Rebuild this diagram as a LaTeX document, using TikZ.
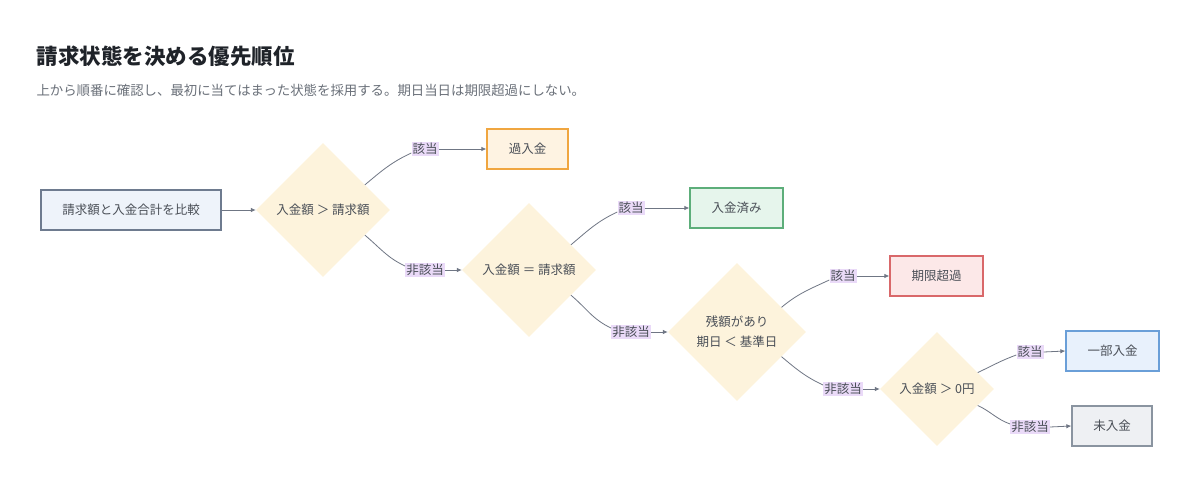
\documentclass[tikz,border=0pt]{standalone}
\usepackage{fontspec}
\setmainfont{Noto Sans CJK JP}
\usetikzlibrary{shapes.geometric,arrows.meta}
\definecolor{ttl}{HTML}{1F2329}
\definecolor{sub}{HTML}{6A7079}
\definecolor{txt}{HTML}{4A4F57}
\definecolor{lbg}{HTML}{EADAF8}
\definecolor{lin}{HTML}{6F7684}
\definecolor{dfill}{HTML}{FDF3DC}
\definecolor{b1f}{HTML}{EEF3FA}\definecolor{b1d}{HTML}{6E7B8F}
\definecolor{orf}{HTML}{FEF3E2}\definecolor{ord}{HTML}{F0A640}
\definecolor{grf}{HTML}{E6F5EC}\definecolor{grd}{HTML}{5DAE7A}
\definecolor{rdf}{HTML}{FCE8E8}\definecolor{rdd}{HTML}{D9686A}
\definecolor{blf}{HTML}{E8F1FC}\definecolor{bld}{HTML}{6A9FD8}
\definecolor{gyf}{HTML}{EEF0F3}\definecolor{gyd}{HTML}{8A94A0}
\tikzset{
  nfont/.style={font=\fontsize{12.5}{20}\selectfont},
  stbox/.style={draw, line width=1.3pt, minimum height=40pt, inner sep=0pt, nfont, text=txt},
  dia/.style={diamond, aspect=1, fill=dfill, inner sep=0pt, nfont, text=txt, align=center},
  lbl/.style={fill=lbg, inner xsep=1pt, inner ysep=1.5pt, nfont, text=txt},
  conn/.style={draw=lin, line width=0.8pt},
  arr/.style={conn, -{Latex[length=5pt,width=4.5pt]}},
  upc/.style={conn, out=40, in=205},
  dnc/.style={conn, out=-40, in=155}
}
\begin{document}
\begin{tikzpicture}[x=1pt,y=-1pt]
\useasboundingbox[fill=white] (0,0) rectangle (1200,498);
\node[anchor=base west, text=ttl, font=\fontsize{21.5}{26}\selectfont\bfseries] (title) at (33,64) {請求状態を決める優先順位};
\node[anchor=base west, text=sub, font=\fontsize{13.4}{16}\selectfont] (subt) at (33,95) {上から順番に確認し、最初に当てはまった状態を採用する。期日当日は期限超過にしない。};

\node[stbox, fill=b1f, draw=b1d, minimum width=180pt] (start) at (131,210) {請求額と入金合計を比較};
\node[dia, minimum width=134pt, minimum height=134pt] (d1) at (323,210) {入金額 ＞ 請求額};
\node[dia, minimum width=134pt, minimum height=134pt] (d2) at (529,270) {入金額 ＝ 請求額};
\node[dia, minimum width=138pt, minimum height=138pt] (d3) at (737,332) {残額があり\\期日 ＜ 基準日};
\node[dia, minimum width=114pt, minimum height=114pt] (d4) at (937,389) {入金額 ＞ 0円};

\node[stbox, fill=orf, draw=ord, minimum width=81pt] (over) at (527.5,149) {過入金};
\node[stbox, fill=grf, draw=grd, minimum width=93pt] (paid) at (736.5,208) {入金済み};
\node[stbox, fill=rdf, draw=rdd, minimum width=93pt] (late) at (936.5,276) {期限超過};
\node[stbox, fill=blf, draw=bld, minimum width=93pt] (part) at (1112.5,351) {一部入金};
\node[stbox, fill=gyf, draw=gyd, minimum width=80pt] (none) at (1112,426) {未入金};

\path (start.east) edge[arr] (d1.west);

\node[lbl] (l1) at (425,149) {該当};
\node[lbl] (l2) at (425,270) {非該当};
\node[lbl] (l3) at (631,208) {該当};
\node[lbl] (l4) at (631,332) {非該当};
\node[lbl] (l5) at (843,276) {該当};
\node[lbl] (l6) at (843,389) {非該当};
\node[lbl] (l7) at (1030,352) {該当};
\node[lbl] (l8) at (1030,427) {非該当};

\draw[upc] (d1.31) to ([yshift=-4pt]l1.west);
\draw[arr] (l1.east) -- (over.west);
\draw[dnc] (d1.-31) to ([yshift=4pt]l2.west);
\draw[arr] (l2.east) -- (d2.west);

\draw[upc] (d2.31) to ([yshift=-4pt]l3.west);
\draw[arr] (l3.east) -- (paid.west);
\draw[dnc] (d2.-31) to ([yshift=4pt]l4.west);
\draw[arr] (l4.east) -- (d3.west);

\draw[upc] (d3.29) to ([yshift=-4pt]l5.west);
\draw[arr] (l5.east) -- (late.west);
\draw[dnc] (d3.-29) to ([yshift=4pt]l6.west);
\draw[arr] (l6.east) -- (d4.west);

\draw[conn] (d4.22) to[out=25,in=200] ([yshift=-3pt]l7.west);
\draw[arr] (l7.east) -- (part.west);
\draw[conn] (d4.-22) to[out=-25,in=160] ([yshift=3pt]l8.west);
\draw[arr] (l8.east) -- (none.west);
\end{tikzpicture}
\end{document}
